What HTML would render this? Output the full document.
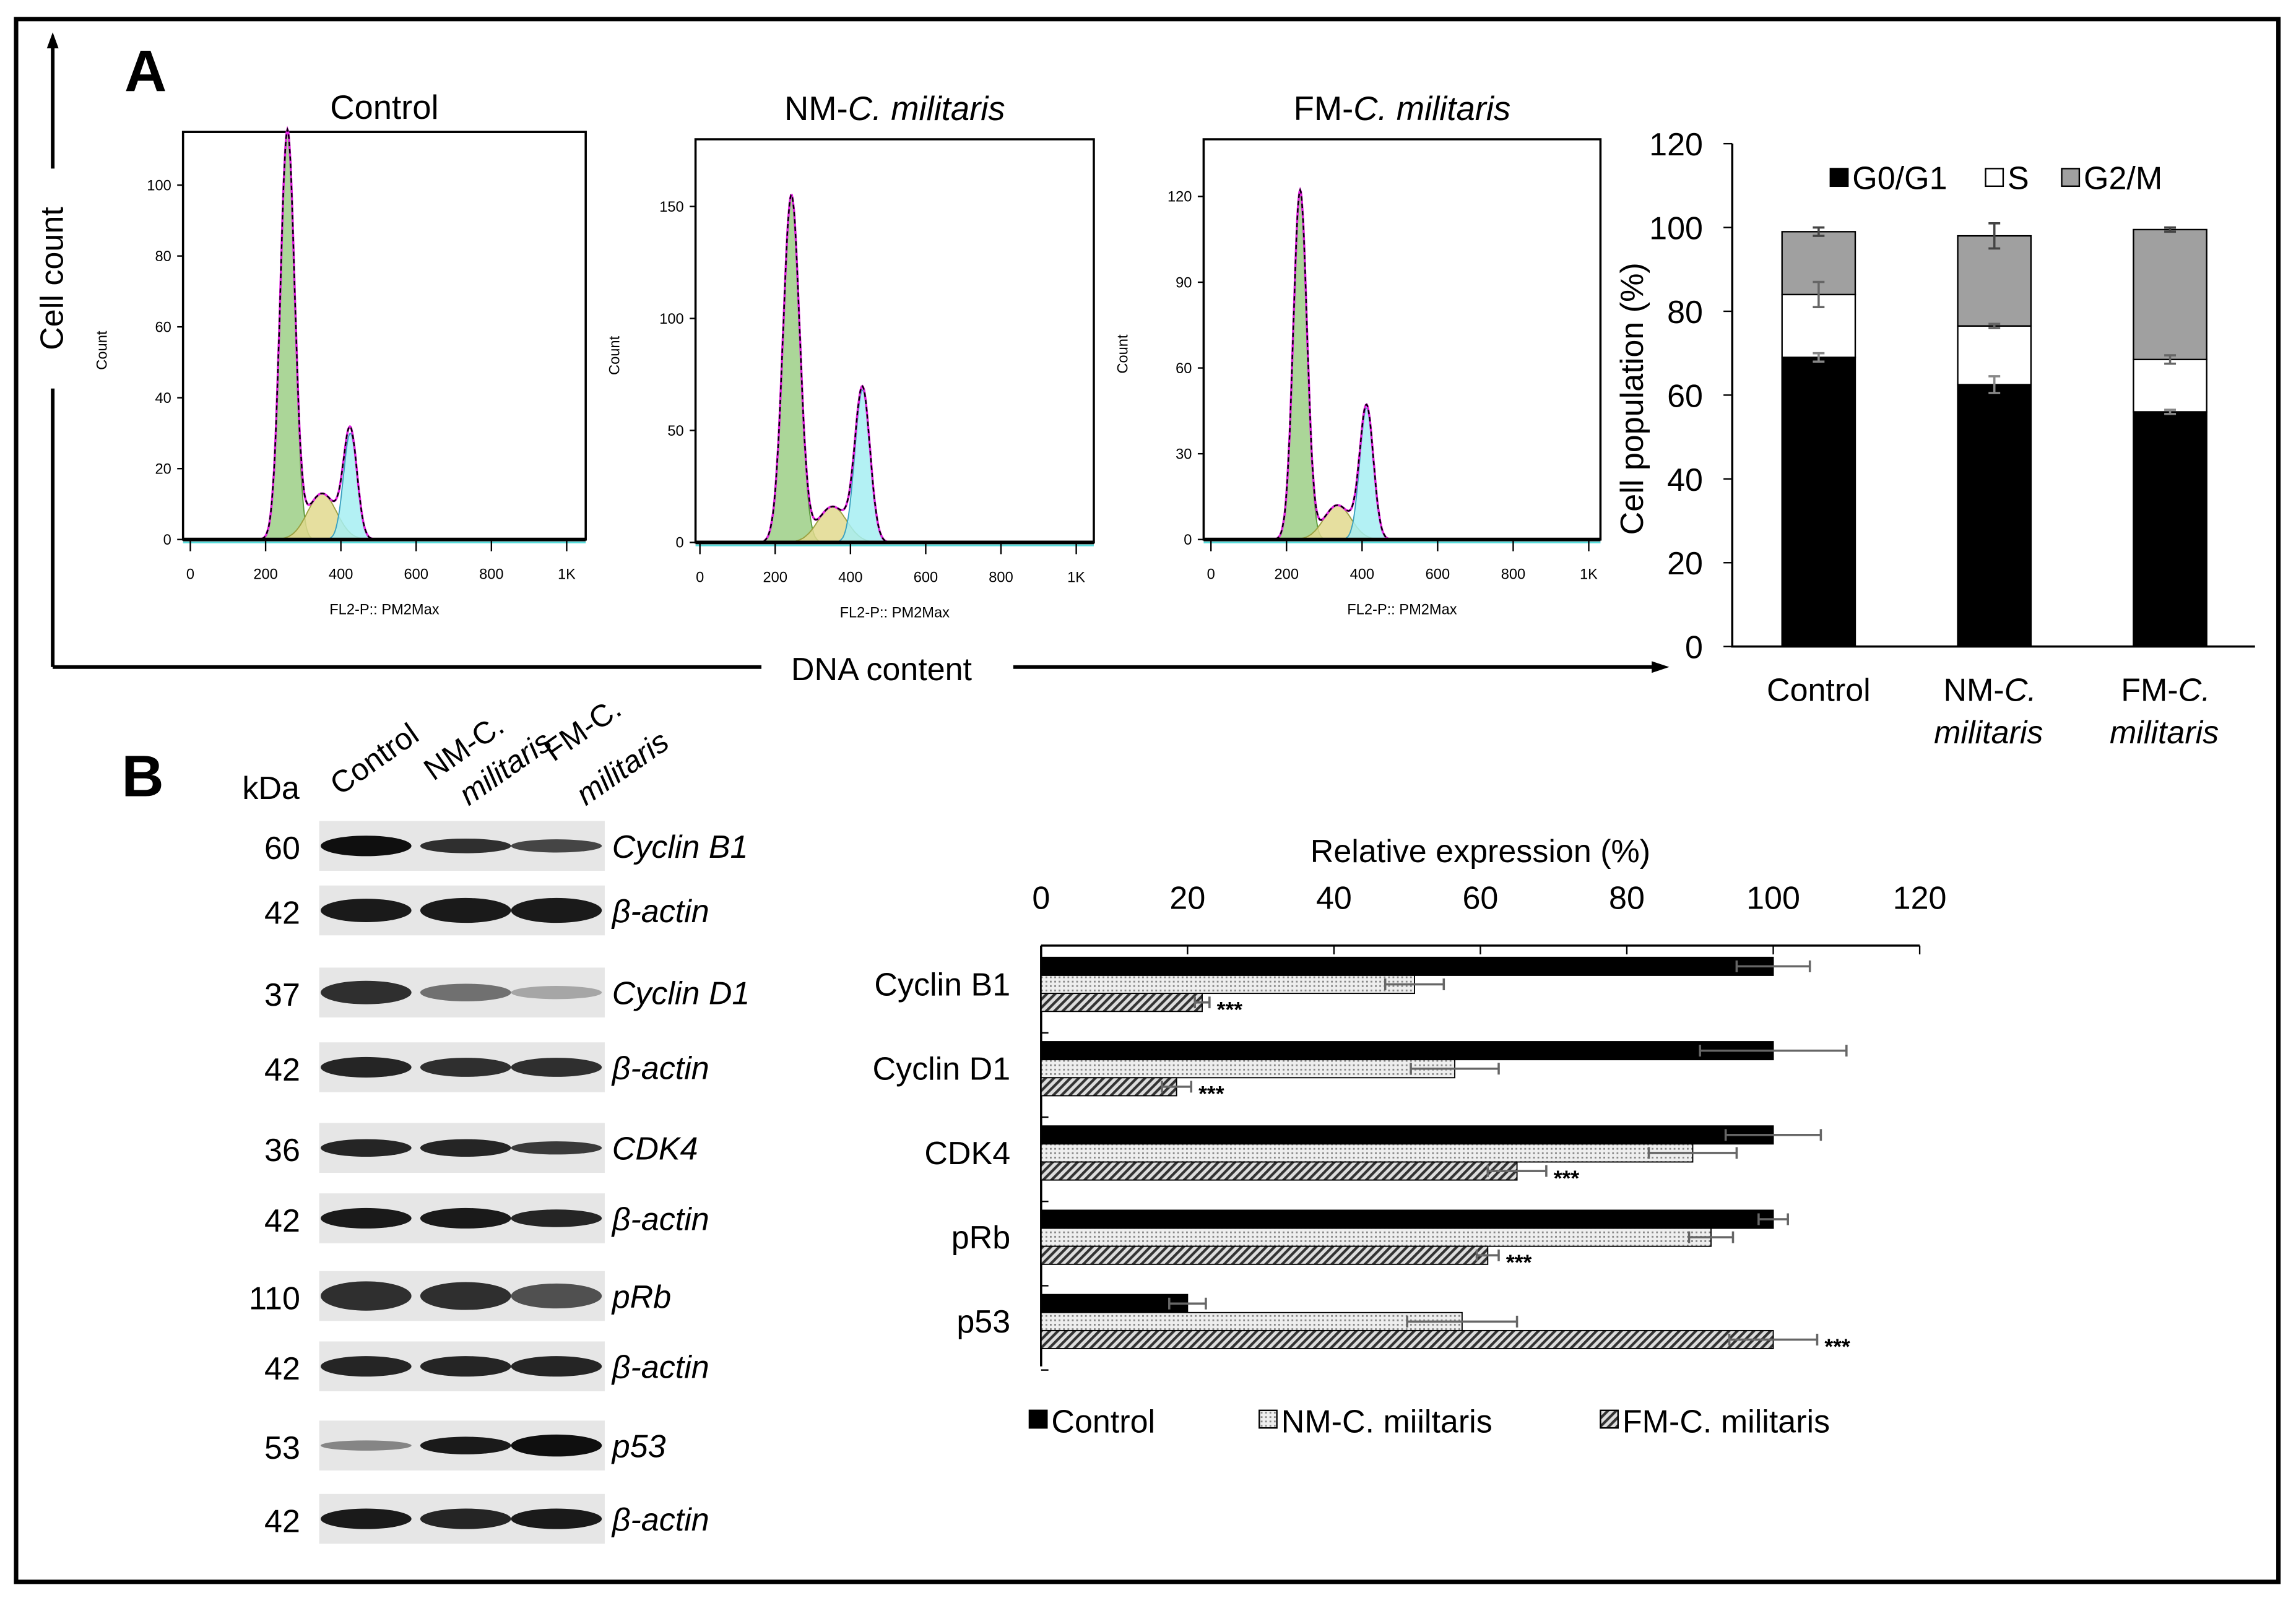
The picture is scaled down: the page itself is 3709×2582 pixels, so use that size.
<!DOCTYPE html>
<html><head><meta charset="utf-8"><style>
html,body{margin:0;padding:0;background:#fff;}
svg{display:block;font-family:"Liberation Sans",Arial,sans-serif;}
</style></head><body>
<svg id="fig" xmlns="http://www.w3.org/2000/svg" width="3709" height="2582" viewBox="0 0 1568 1090" preserveAspectRatio="none">
<defs>
<pattern id="dots" width="3" height="3" patternUnits="userSpaceOnUse"><rect width="3" height="3" fill="#eee"/><rect width="1.2" height="1.2" fill="#888"/></pattern>
<pattern id="hatch" width="4" height="4" patternUnits="userSpaceOnUse" patternTransform="rotate(45)"><rect width="4" height="4" fill="#ddd"/><rect width="1.8" height="4" fill="#333"/></pattern>
</defs>
<rect x="11" y="13" width="1545" height="1066" fill="none" stroke="#000" stroke-width="3"/>
<text x="85" y="62" font-size="40" font-weight="bold">A</text>
<text x="83" y="543" font-size="40" font-weight="bold">B</text>
<g stroke="#000" stroke-width="2.5">
<line x1="36" y1="30" x2="36" y2="115"/><line x1="36" y1="265" x2="36" y2="455"/>
<line x1="36" y1="455" x2="520" y2="455"/><line x1="692" y1="455" x2="1130" y2="455"/>
</g>
<polygon points="36,22 32,33 40,33" fill="#000"/>
<polygon points="1140,455 1128,451 1128,459" fill="#000"/>
<text transform="translate(43,190) rotate(-90)" font-size="22" text-anchor="middle">Cell count</text>
<text x="602" y="464" font-size="22" text-anchor="middle">DNA content</text>
<g id="hists"></g>
<g id="stack"></g>
<g id="blot"></g>
<g id="hbar"></g>
</svg>
<script>
const NS="http://www.w3.org/2000/svg";
function mk(tag,attrs,parent){const e=document.createElementNS(NS,tag);for(const k in attrs)e.setAttribute(k,attrs[k]);parent.appendChild(e);return e;}
function tx(str,attrs,parent){const e=mk('text',attrs,parent);e.textContent=str;return e;}

/* ---------- Histograms ---------- */
const histTitles=["Control","NM-","FM-"];
const histYTicks=[[0,20,40,60,80,100],[0,50,100,150],[0,30,60,90,120]];
const histYMax=[115,180,140];
const histG1=[[258,115,19],[243,155,22],[236,122,18]];   // center,height,sd
const histS=[[350,13,38],[352,16,38],[335,12,36]];
const histG2=[[425,30,18],[432,68,20],[412,46,18]];
const histXTicks=["0","200","400","600","800","1K"];
const boxes=[[125,90,400,368,130,387],[475,95,747,370,478,735],[822,95,1093,368,827,1085]];
const hg=document.getElementById('hists');
function gauss(p,v){return p[1]*Math.exp(-0.5*((v-p[0])/p[2])**2);}
boxes.forEach((b,i)=>{
  const g=mk('g',{},hg);
  
  
  const [L,T,R,B,x0,x1]=b;
  const xs=v=>x0+v*(x1-x0)/1000, ys=c=>B-c*(B-T)/histYMax[i];
  const t=tx(i==0?'Control':'',{x:(L+R)/2,y:i==0?T-9:T-13,'font-size':23,'text-anchor':'middle'},g);
  if(i>0){t.innerHTML=histTitles[i]+'<tspan font-style="italic">C. militaris</tspan>';}
  
  
  const box=mk('rect',{x:L,y:T,width:R-L,height:B-T,fill:'none',stroke:'#000','stroke-width':1.5},g);
  
  
  const comps=[[histG1[i],'#9ccf86','#5a9a3c'],[histS[i],'#e2d98e','#9aa040'],[histG2[i],'#a6eef2','#3aa0c0']];
  comps.forEach((c,ci)=>{
    let d='M'+xs(c[0][0]-3.5*c[0][2])+','+B;
    for(let v=c[0][0]-3.5*c[0][2];v<=c[0][0]+3.5*c[0][2];v+=2)d+=' L'+xs(v).toFixed(1)+','+ys(gauss(c[0],v)).toFixed(1);
    d+=' L'+xs(c[0][0]+3.5*c[0][2])+','+B+'Z';
    const p=mk('path',{d:d,fill:c[1],'fill-opacity':0.85,stroke:c[2],'stroke-width':0.8},g);
    
    
  });
  let d='';
  for(let v=170;v<=540;v+=2){const s=gauss(histG1[i],v)+gauss(histS[i],v)+gauss(histG2[i],v);d+=(d?' L':'M')+xs(v).toFixed(1)+','+ys(s).toFixed(1);}
  const m=mk('path',{d:d,fill:'none',stroke:'#e020e0','stroke-width':1.5},g);
  
  
  const k=mk('path',{d:d,fill:'none',stroke:'#000','stroke-width':1,'stroke-dasharray':'3,2'},g);
  
  
  const bl=mk('line',{x1:L,y1:B,x2:R,y2:B,stroke:'#000','stroke-width':2.5},g);
  
  
  const cl=mk('line',{x1:L,y1:B+2,x2:R,y2:B+2,stroke:'#5dd','stroke-width':1.2},g);
  
  
  histYTicks[i].forEach(v=>{
    const tl=tx(String(v),{x:L-8,y:ys(v)+3.5,'font-size':10,'text-anchor':'end'},g);
    
    
    const tk=mk('line',{x1:L-4,y1:ys(v),x2:L,y2:ys(v),stroke:'#000'},g);
    
    
  });
  histXTicks.forEach((s,j)=>{
    const x=xs(j*200);
    const tl=tx(s,{x:x,y:B+27,'font-size':10,'text-anchor':'middle'},g);
    
    
    const tk=mk('line',{x1:x,y1:B,x2:x,y2:B+8,stroke:'#000'},g);
    
    
  });
  const xl=tx('FL2-P:: PM2Max',{x:(L+R)/2,y:B+51,'font-size':10,'text-anchor':'middle'},g);
  
  
  const yl=tx('Count',{transform:`translate(${L-52},${(T+B)/2+10}) rotate(-90)`,'font-size':10,'text-anchor':'middle'},g);
  
  
});

/* ---------- Stacked bar chart ---------- */
const stackCats=["Control","NM","FM"];
const stackG1=[69,62.5,56];
const stackS=[15,14,12.5];
const stackG2=[15,21.5,31];
const errG1=[1,2,0.5];
const errS=[3,0.5,1];
const errG2=[1,3,0.5];
const stackTicks=[0,20,40,60,80,100,120];
const sg=document.getElementById('stack');
const sy=v=>441-v*(441-98)/120;
const scx=[1242,1362,1482];
const ax=mk('path',{d:'M1183,98 L1183,441 L1540,441',fill:'none',stroke:'#000','stroke-width':1.5},sg);


stackTicks.forEach(v=>{
  const t=tx(String(v),{x:1163,y:sy(v)+8,'font-size':22,'text-anchor':'end'},sg);
  
  
  const k=mk('line',{x1:1177,y1:sy(v),x2:1183,y2:sy(v),stroke:'#000'},sg);
  
  
});
const syl=tx('Cell population (%)',{transform:'translate(1122,272) rotate(-90)','font-size':22,'text-anchor':'middle'},sg);


stackCats.forEach((c,i)=>{
  const x=scx[i]-25,w=50;
  const a=stackG1[i],b=a+stackS[i],t=b+stackG2[i];
  const r1=mk('rect',{x:x,y:sy(a),width:w,height:sy(0)-sy(a),fill:'#000',stroke:'#000'},sg);
  
  
  const r2=mk('rect',{x:x,y:sy(b),width:w,height:sy(a)-sy(b),fill:'#fff',stroke:'#000'},sg);
  
  
  const r3=mk('rect',{x:x,y:sy(t),width:w,height:sy(b)-sy(t),fill:'#a0a0a0',stroke:'#000'},sg);
  
  
  [[a,errG1[i],'#888'],[b,errS[i],'#666'],[t,errG2[i],'#444']].forEach(e=>{
    const p=mk('path',{d:`M${scx[i]},${sy(e[0]-e[1])} V${sy(e[0]+e[1])} M${scx[i]-4},${sy(e[0]-e[1])} h8 M${scx[i]-4},${sy(e[0]+e[1])} h8`,stroke:e[2],'stroke-width':1.5,fill:'none'},sg);
    
    
  });
  if(i==0){const l=tx('Control',{x:scx[i],y:478,'font-size':22,'text-anchor':'middle'},sg);}
  else{
    const l1=tx(c+'-',{x:scx[i]-3,y:478,'font-size':22,'text-anchor':'middle'},sg);
    l1.innerHTML=c+'-<tspan font-style="italic">C.</tspan>';
    
    
    const l2=tx('militaris',{x:scx[i]-4,y:507,'font-size':22,'text-anchor':'middle','font-style':'italic'},sg);
    
    
  }
});
[[1250,'#000','G0/G1'],[1356,'#fff','S'],[1408,'#a0a0a0','G2/M']].forEach(l=>{
  const r=mk('rect',{x:l[0],y:115,width:12,height:12,fill:l[1],stroke:'#000'},sg);
  
  
  const t=tx(l[2],{x:l[0]+15,y:129,'font-size':22},sg);
  
  
});

/* ---------- Western blot ---------- */
const blotLabels=["Cyclin B1","β-actin","Cyclin D1","β-actin","CDK4","β-actin","pRb","β-actin","p53","β-actin"];
const blotKda=["60","42","37","42","36","42","110","42","53","42"];
const blotY=[577,621,677,728,783,831,884,932,986,1036];
const bandDark=[[1,0.85,0.75],[0.95,0.95,0.95],[0.85,0.55,0.3],[0.9,0.85,0.85],[0.9,0.9,0.8],[0.95,0.95,0.9],[0.85,0.85,0.7],[0.9,0.9,0.9],[0.45,0.95,1],[0.95,0.9,0.95]];
const bandH=[[12,8,7],[14,15,15],[14,10,7],[12,11,11],[10,10,7],[12,12,10],[18,17,15],[12,12,12],[5,10,13],[12,12,12]];
const bg=document.getElementById('blot');
const kd=tx('kDa',{x:185,y:545,'font-size':22,'text-anchor':'middle'},bg);


const ch1=tx('Control',{transform:'translate(232,543) rotate(-35)','font-size':21},bg);


const ch2=tx('NM-C.',{transform:'translate(296,533) rotate(-35)','font-size':21},bg);


const ch2b=tx('militaris',{transform:'translate(320,550) rotate(-35)','font-size':21,'font-style':'italic'},bg);


const ch3=tx('FM-C.',{transform:'translate(378,520) rotate(-35)','font-size':21},bg);


const ch3b=tx('militaris',{transform:'translate(400,550) rotate(-35)','font-size':21,'font-style':'italic'},bg);


const laneX=[250,318,380];
blotLabels.forEach((lab,i)=>{
  const y=blotY[i];
  const s=mk('rect',{x:218,y:y-17,width:195,height:34,fill:'#e6e6e6'},bg);
  
  
  laneX.forEach((x,j)=>{
    const dk=bandDark[i][j],v=Math.round(230-215*dk);
    const e=mk('ellipse',{cx:x,cy:y,rx:31,ry:bandH[i][j]/2+1,fill:`rgb(${v},${v},${v})`},bg);
    
    
  });
  const k=tx(blotKda[i],{x:205,y:y+9,'font-size':22,'text-anchor':'end'},bg);
  
  
  const l=tx(lab,{x:418,y:y+8,'font-size':22,'font-style':'italic'},bg);
  
  
});

/* ---------- Horizontal bar chart ---------- */
const hCats=["Cyclin B1","Cyclin D1","CDK4","pRb","p53"];
const hControl=[100,100,100,100,20];
const hNM=[51,56.5,89,91.5,57.5];
const hFM=[22,18.5,65,61,100];
const hErrC=[5,10,6.5,2,2.5];
const hErrN=[4,6,6,3,7.5];
const hErrF=[1,2,4,1.5,6];
const hTicks=[0,20,40,60,80,100,120];
const hg2=document.getElementById('hbar');
const hx=v=>711+v*5;
const g0=653,gs=57.5,bh=12.3;
const ht=tx('Relative expression (%)',{x:1011,y:588,'font-size':22,'text-anchor':'middle'},hg2);


const hax=mk('path',{d:'M711,645 H1311 M711,645 V932',stroke:'#000','stroke-width':1.5,fill:'none'},hg2);


hTicks.forEach(v=>{
  const t=tx(String(v),{x:hx(v),y:620,'font-size':22,'text-anchor':'middle'},hg2);
  
  
  const k=mk('line',{x1:hx(v),y1:645,x2:hx(v),y2:651,stroke:'#000'},hg2);
  
  
});
hCats.forEach((c,i)=>{
  const y0=g0+i*gs;
  const cl=tx(c,{x:690,y:y0+26,'font-size':22,'text-anchor':'end'},hg2);
  
  
  const tk=mk('line',{x1:711,y1:y0+gs-6,x2:716,y2:y0+gs-6,stroke:'#000'},hg2);
  
  
  [[hControl[i],hErrC[i],'#000'],[hNM[i],hErrN[i],'url(#dots)'],[hFM[i],hErrF[i],'url(#hatch)']].forEach((s,j)=>{
    const y=y0+j*bh;
    const r=mk('rect',{x:711,y:y,width:hx(s[0])-711,height:bh,fill:s[2],stroke:'#000','stroke-width':0.8},hg2);
    
    
    const cy=y+bh/2,a=hx(s[0]-s[1]),b=hx(s[0]+s[1]);
    const e=mk('path',{d:`M${a},${cy} H${b} M${a},${cy-4} v8 M${b},${cy-4} v8`,stroke:'#666','stroke-width':1.5,fill:'none'},hg2);
    
    
    if(j==2){
      const st=tx('***',{x:b+5,y:cy+10,'font-size':15,'font-weight':'bold'},hg2);
      
      
    }
  });
});
[[703,'#000','Control'],[860,'url(#dots)','NM-C. miiltaris'],[1093,'url(#hatch)','FM-C. militaris']].forEach(l=>{
  const r=mk('rect',{x:l[0],y:962,width:12,height:12,fill:l[1],stroke:'#000'},hg2);
  
  
  const t=tx(l[2],{x:l[0]+15,y:977,'font-size':22},hg2);
  
  
});
</script>
</body></html>
